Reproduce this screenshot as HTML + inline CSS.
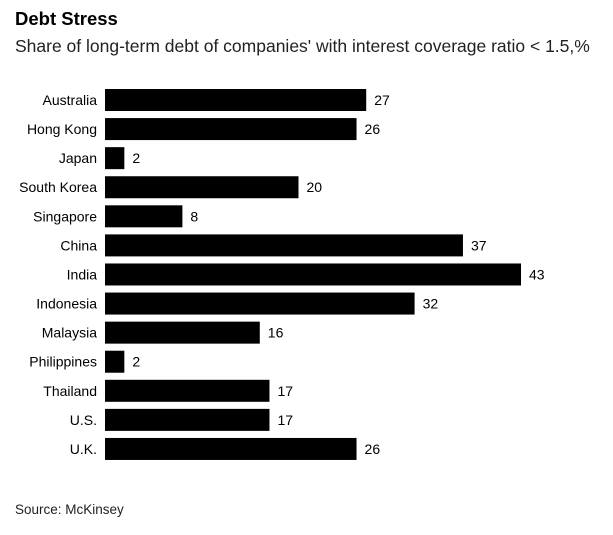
<!DOCTYPE html>
<html><head><meta charset="utf-8"><style>
body{margin:0;background:#fff;font-family:"Liberation Sans",Arial,sans-serif;}
#wrap{position:relative;width:613px;height:535px;overflow:hidden;}
.t{position:absolute;white-space:nowrap;color:#000;}
</style></head><body>
<div id="wrap">
<div class="t" style="left:15px;top:8px;font-size:18.5px;font-weight:bold;">Debt Stress</div>
<div class="t" style="left:15px;top:36px;font-size:17.5px;color:#222;">Share of long-term debt of companies' with interest coverage ratio &lt; 1.5,%</div>
<svg id="plot" width="613" height="535" style="position:absolute;left:0;top:0;"></svg>
<div class="t" style="left:15px;top:502px;font-size:13.5px;color:#222;">Source: McKinsey</div>
</div>
<script>
const categories=["Australia","Hong Kong","Japan","South Korea","Singapore","China","India","Indonesia","Malaysia","Philippines","Thailand","U.S.","U.K."];
const values=[27,26,2,20,8,37,43,32,16,2,17,17,26];
const svg=document.getElementById('plot');
const NS='http://www.w3.org/2000/svg';
const x0=105, pxPerUnit=416/43;
function xScale(v){return x0+v*pxPerUnit;}
function yScale(i){return 100+i*29.08;}
const barH=22;
categories.forEach((c,i)=>{
  const y=yScale(i);
  const r=document.createElementNS(NS,'rect');
  
  
  r.setAttribute('x',x0);r.setAttribute('y',y-barH/2);
  r.setAttribute('width',xScale(values[i])-x0);r.setAttribute('height',barH);
  r.setAttribute('fill','#000');
  svg.appendChild(r);
  const l=document.createElementNS(NS,'text');
  
  
  l.setAttribute('x',97);l.setAttribute('y',y+5);l.setAttribute('text-anchor','end');
  l.setAttribute('font-size','14');l.setAttribute('font-family','Liberation Sans, Arial, sans-serif');
  l.textContent=c;svg.appendChild(l);
  const v=document.createElementNS(NS,'text');
  
  
  v.setAttribute('x',xScale(values[i])+8);v.setAttribute('y',y+5);
  v.setAttribute('font-size','14');v.setAttribute('font-family','Liberation Sans, Arial, sans-serif');
  v.textContent=values[i];svg.appendChild(v);
});
</script>
</body></html>
